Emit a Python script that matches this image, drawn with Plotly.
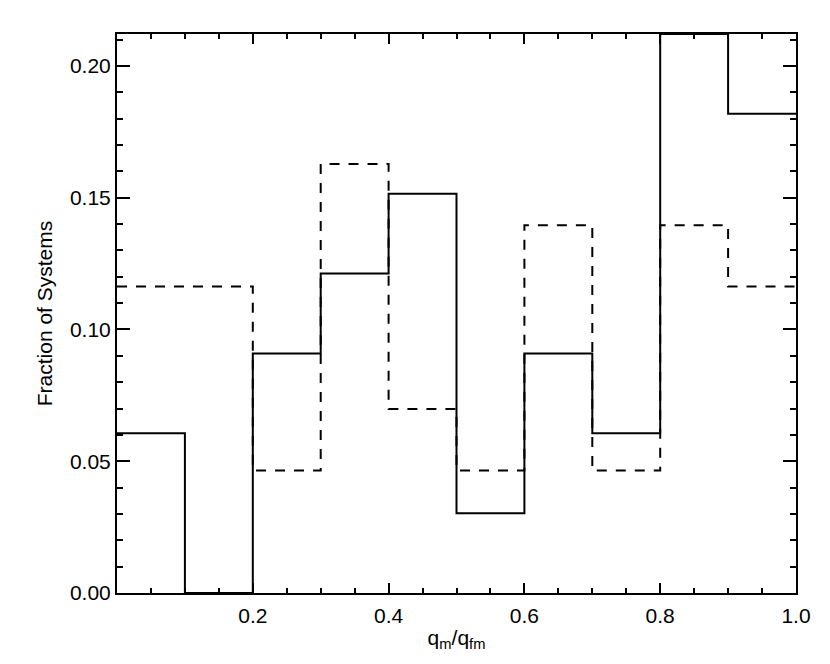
import plotly.graph_objects as go

# bin edges of the histogram (q_m / q_fm)
bin_edges = [0.0, 0.1, 0.2, 0.3, 0.4, 0.5, 0.6, 0.7, 0.8, 0.9, 1.0]

# fraction of systems per bin
solid_frac = [0.0606, 0.0, 0.0909, 0.1212, 0.1515, 0.0303, 0.0909, 0.0606, 0.2121, 0.1818]
dashed_frac = [0.1163, 0.1163, 0.0465, 0.1628, 0.0698, 0.0465, 0.1395, 0.0465, 0.1395, 0.1163]

x_tick_vals = [0.2, 0.4, 0.6, 0.8, 1.0]
x_tick_text = ["0.2", "0.4", "0.6", "0.8", "1.0"]
y_tick_vals = [0.0, 0.05, 0.10, 0.15, 0.20]
y_tick_text = ["0.00", "0.05", "0.10", "0.15", "0.20"]

font_name = "Liberation Sans"
font_size = 21

fig = go.Figure()

# step histograms: repeat last value so the final bin reaches the right edge
for vals, dash in [(dashed_frac, "10px,9px"), (solid_frac, "solid")]:
    fig.add_trace(go.Scatter(
        x=bin_edges,
        y=vals + [vals[-1]],
        mode="lines",
        line=dict(shape="hv", color="black", width=2, dash=dash),
        showlegend=False,
    ))

axis_common = dict(
    showgrid=False,
    zeroline=False,
    showline=True,
    linecolor="black",
    linewidth=2,
    mirror="allticks",
    ticks="inside",
    tickcolor="black",
    tickwidth=2,
    tickfont=dict(family=font_name, size=font_size, color="black"),
)

fig.update_xaxes(
    range=[0, 1.0],
    tickmode="array",
    tickvals=x_tick_vals,
    ticktext=x_tick_text,
    ticklen=10,
    ticklabelstandoff=3,
    minor=dict(tickmode="linear", tick0=0, dtick=0.05, ticks="inside",
               ticklen=5, tickwidth=2, tickcolor="black", showgrid=False),
    title=dict(text="q<sub>m</sub>/q<sub>fm</sub>",
               font=dict(family=font_name, size=font_size, color="black"), standoff=4),
    **axis_common,
)

fig.update_yaxes(
    range=[0, 0.2121],
    tickmode="array",
    tickvals=y_tick_vals,
    ticktext=y_tick_text,
    ticklen=13,
    minor=dict(tickmode="linear", tick0=0, dtick=0.01, ticks="inside",
               ticklen=6, tickwidth=2, tickcolor="black", showgrid=False),
    title=dict(text="Fraction of Systems",
               font=dict(family=font_name, size=font_size, color="black"), standoff=12),
    **axis_common,
)

# page body adds an 8px offset, so the figure is a bit smaller than the window
fig.update_layout(
    width=822,
    height=656,
    margin=dict(l=109, r=34, t=26, b=71),
    plot_bgcolor="white",
    paper_bgcolor="white",
)

fig.write_html("out.html")
